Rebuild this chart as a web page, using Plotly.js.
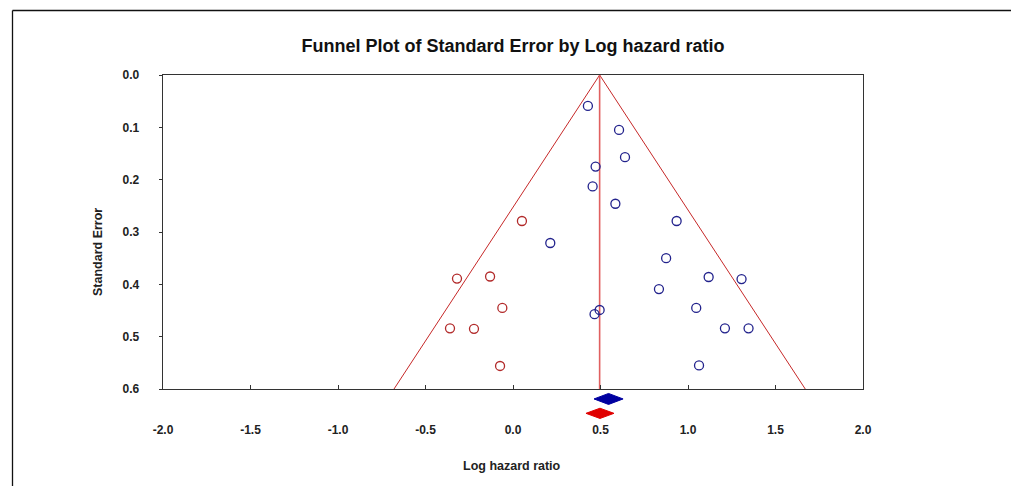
<!DOCTYPE html>
<html>
<head>
<meta charset="utf-8">
<script src="https://cdn.plot.ly/plotly-3.0.1.min.js"></script>
<style>html,body{margin:0;padding:0;background:#fff;}#chart{width:1011px;height:486px;}</style>
</head>
<body>
<div id="chart"></div>
<script>
// Observed studies (blue)
const obsLogHR = [0.428, 0.606, 0.640, 0.472, 0.455, 0.585, 0.213, 0.935, 0.875, 1.118, 1.306, 0.834, 1.047, 1.211, 1.346, 1.063, 0.495, 0.466];
const obsSE    = [0.059, 0.105, 0.157, 0.175, 0.213, 0.246, 0.321, 0.279, 0.350, 0.386, 0.390, 0.409, 0.445, 0.484, 0.484, 0.555, 0.449, 0.457];
// Imputed studies (red)
const impLogHR = [0.051, -0.320, -0.131, -0.061, -0.360, -0.223, -0.074];
const impSE    = [0.279, 0.389, 0.385, 0.445, 0.484, 0.485, 0.556];
// Funnel (pseudo 95% limits) and centre line
const funnelX = [-0.680, 0.495, 1.670];
const funnelY = [0.6, 0.0, 0.6];
const centreX = [0.495, 0.495];
const centreY = [0.0, 0.6];
// Summary diamonds: [lower, estimate, upper]
const obsSummary = [0.463, 0.546, 0.629];
const adjSummary = [0.417, 0.497, 0.577];
const xTicks = [-2.0, -1.5, -1.0, -0.5, 0.0, 0.5, 1.0, 1.5, 2.0];
const xTickText = ['-2.0', '-1.5', '-1.0', '-0.5', '0.0', '0.5', '1.0', '1.5', '2.0'];
const yTicks = [0.0, 0.1, 0.2, 0.3, 0.4, 0.5, 0.6];
const yTickText = ['0.0', '0.1', '0.2', '0.3', '0.4', '0.5', '0.6'];

function diamond(s, yc, h) {
  return {x: [s[0], s[1], s[2], s[1], s[0]], y: [yc, yc - h, yc, yc + h, yc]};
}
const dB = diamond(obsSummary, 0.619, 0.0105);
const dR = diamond(adjSummary, 0.6465, 0.0098);

const F = 'Liberation Sans, Arial, sans-serif';
const traces = [
  {x: funnelX, y: funnelY, mode: 'lines', line: {color: '#c62828', width: 1}, hoverinfo: 'skip'},
  {x: centreX, y: centreY, mode: 'lines', line: {color: '#e06060', width: 1.6}, hoverinfo: 'skip'},
  {x: obsLogHR, y: obsSE, mode: 'markers', marker: {symbol: 'circle-open', size: 9, color: '#22228c', line: {width: 1.3}}},
  {x: impLogHR, y: impSE, mode: 'markers', marker: {symbol: 'circle-open', size: 9, color: '#b22a2a', line: {width: 1.3}}},
  {x: dB.x, y: dB.y, xaxis: 'x2', yaxis: 'y2', mode: 'lines', fill: 'toself', fillcolor: '#0000a0', line: {color: '#0000a0', width: 1}},
  {x: dR.x, y: dR.y, xaxis: 'x2', yaxis: 'y2', mode: 'lines', fill: 'toself', fillcolor: '#e00000', line: {color: '#e00000', width: 1}}
];

const layout = {
  width: 1011, height: 486,
  margin: {l: 163, r: 148.3, t: 75, b: 60},
  paper_bgcolor: '#fff', plot_bgcolor: '#fff',
  showlegend: false,
  font: {family: F, size: 12, color: '#222'},
  title: {text: 'Funnel Plot of Standard Error by Log hazard ratio', x: 0.5074, xref: 'container', xanchor: 'center', y: 0.905, yref: 'container', yanchor: 'middle',
          font: {family: F, size: 18, weight: 'bold', color: '#111'}},
  xaxis: {
    anchor: 'y', range: [-2, 2], tickvals: xTicks, ticktext: xTickText,
    showline: true, mirror: true, linecolor: '#333', linewidth: 1.3,
    ticks: 'inside', ticklen: 4, tickcolor: '#333', showgrid: false, zeroline: false,
    ticklabelstandoff: 29, tickfont: {family: F, size: 12, weight: 'bold', color: '#222'}
  },
  yaxis: {
    domain: [0.1054, 1], range: [0.6, 0], tickvals: yTicks, ticktext: yTickText,
    showline: true, mirror: true, linecolor: '#333', linewidth: 1.3,
    ticks: 'outside', ticklen: 3, tickcolor: '#333', showgrid: false, zeroline: false,
    ticklabelstandoff: 17, tickfont: {family: F, size: 12, weight: 'bold', color: '#222'}
  },
  xaxis2: {matches: 'x', anchor: 'y2', visible: false},
  yaxis2: {domain: [0, 0.1054], range: [0.6707, 0.6], visible: false},
  annotations: [
    {text: 'Standard Error', xref: 'paper', yref: 'paper', x: -0.0929, y: 0.4957, xanchor: 'center', yanchor: 'middle', textangle: -90, showarrow: false,
     font: {family: F, size: 12.5, weight: 'bold', color: '#222'}},
    {text: 'Log hazard ratio', xref: 'paper', yref: 'paper', x: 0.4979, y: -0.114, xanchor: 'center', yanchor: 'middle', showarrow: false,
     font: {family: F, size: 12.5, weight: 'bold', color: '#222'}}
  ],
  shapes: [
    {type: 'line', xref: 'paper', yref: 'paper', x0: -0.215, x1: -0.215, y0: 1.1838, y1: -0.2, line: {color: '#111', width: 1.3}},
    {type: 'line', xref: 'paper', yref: 'paper', x0: -0.215, x1: 1.22, y0: 1.1838, y1: 1.1838, line: {color: '#111', width: 1.3}}
  ]
};
Plotly.newPlot('chart', traces, layout, {displayModeBar: false, staticPlot: true});
</script>
</body>
</html>
